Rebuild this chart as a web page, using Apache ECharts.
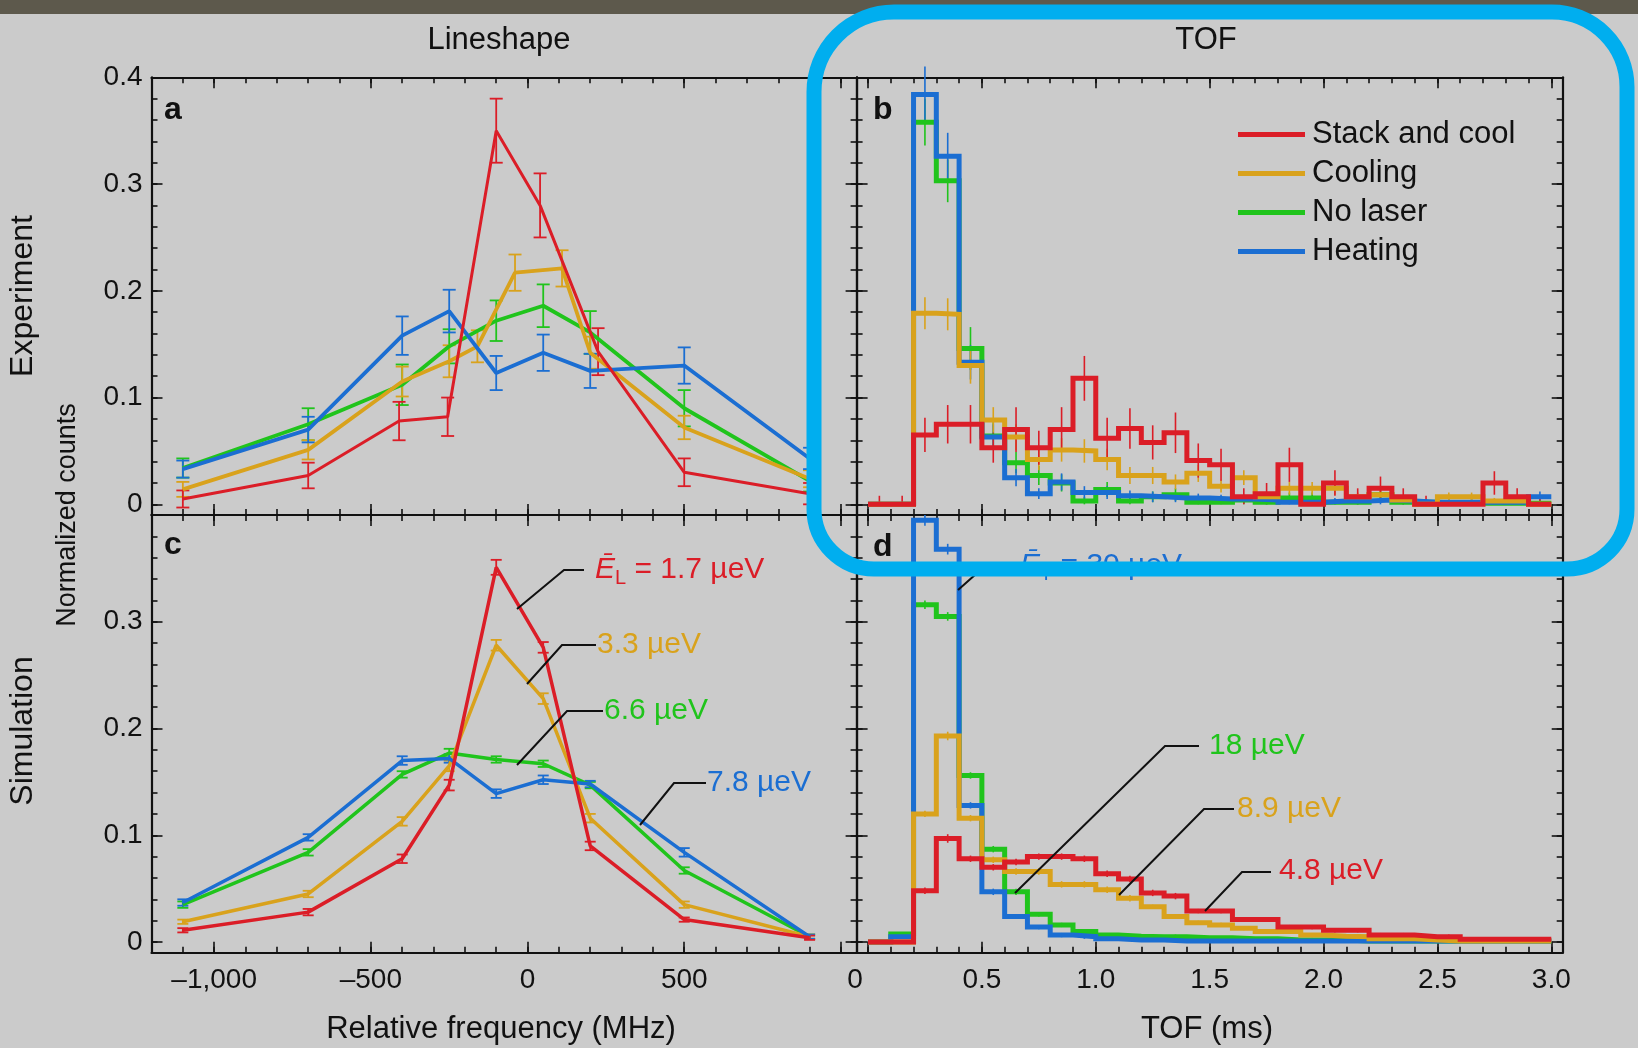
<!DOCTYPE html>
<html><head><meta charset="utf-8">
<script src="https://cdn.jsdelivr.net/npm/echarts@6/dist/echarts.min.js"></script>
<style>html,body{margin:0;padding:0;background:#cbcbcb;}#c{width:1638px;height:1048px;}</style>
</head><body><div id="c"></div>
<script>
// ---------------- DATA ----------------
const seriesNames = ['Stack and cool', 'Cooling', 'No laser', 'Heating'];

// Panel a (Experiment, lineshape): frequency (MHz) / normalized counts / error
const freqRed = [-1100, -700, -410, -255, -100, 40, 225, 500, 900];
const expRedY = [0.005, 0.027, 0.078, 0.082, 0.350, 0.280, 0.143, 0.030, 0.010];
const expRedErr = [0.008, 0.012, 0.018, 0.018, 0.030, 0.030, 0.022, 0.013, 0.010];
const freqCool = [-1100, -700, -400, -250, -160, -40, 110, 200, 500, 900];
const expCoolY = [0.014, 0.051, 0.115, 0.134, 0.148, 0.217, 0.221, 0.142, 0.072, 0.024];
const expCoolErr = [0.007, 0.009, 0.014, 0.015, 0.015, 0.017, 0.017, 0.015, 0.011, 0.008];
const freqNoLaser = [-1100, -700, -400, -250, -100, 50, 200, 500, 900];
const expNoLaserY = [0.034, 0.075, 0.112, 0.148, 0.172, 0.186, 0.161, 0.090, 0.022];
const expNoLaserErr = [0.009, 0.015, 0.019, 0.016, 0.019, 0.020, 0.020, 0.017, 0.010];
const freqHeat = [-1100, -700, -400, -250, -100, 50, 200, 500, 900];
const expHeatY = [0.033, 0.070, 0.158, 0.181, 0.123, 0.142, 0.125, 0.130, 0.043];
const expHeatErr = [0.008, 0.012, 0.018, 0.020, 0.016, 0.017, 0.016, 0.017, 0.010];

// Panel c (Simulation, lineshape)
const freqSim = [-1100, -700, -400, -250, -100, 50, 200, 500, 900];
const simRedY = [0.011, 0.028, 0.078, 0.147, 0.351, 0.276, 0.090, 0.021, 0.004];
const simRedErr = [0.002, 0.003, 0.004, 0.005, 0.007, 0.005, 0.004, 0.002, 0.002];
const simCoolY = [0.019, 0.045, 0.113, 0.165, 0.278, 0.228, 0.116, 0.035, 0.005];
const simCoolErr = [0.002, 0.003, 0.004, 0.005, 0.005, 0.005, 0.004, 0.003, 0.002];
const simNoLaserY = [0.035, 0.084, 0.157, 0.177, 0.171, 0.167, 0.147, 0.067, 0.005];
const simNoLaserErr = [0.003, 0.003, 0.003, 0.004, 0.003, 0.003, 0.003, 0.003, 0.002];
const simHeatY = [0.037, 0.098, 0.170, 0.172, 0.139, 0.152, 0.148, 0.084, 0.005];
const simHeatErr = [0.003, 0.003, 0.004, 0.004, 0.004, 0.004, 0.003, 0.004, 0.002];

// TOF histograms: bin edges (ms)
const tofEdges = [0, 0.1, 0.2, 0.3, 0.4, 0.5, 0.6, 0.7, 0.8, 0.9, 1.0, 1.1, 1.2, 1.3, 1.4, 1.5,
  1.6, 1.7, 1.8, 1.9, 2.0, 2.1, 2.2, 2.3, 2.4, 2.5, 2.6, 2.7, 2.8, 2.9, 3.0];

// Panel b (Experiment TOF)
const tofExpRed = [0, 0, 0.065, 0.075, 0.075, 0.053, 0.070, 0.053, 0.070, 0.118, 0.062, 0.071, 0.058, 0.067, 0.041,
  0.037, 0.007, 0.010, 0.037, 0, 0.020, 0.007, 0.015, 0.007, 0, 0, 0, 0.020, 0.007, 0];
const tofExpRedErr = [0.008, 0.008, 0.016, 0.018, 0.018, 0.014, 0.021, 0.016, 0.021, 0.021, 0.019, 0.019, 0.016, 0.019, 0.016,
  0.015, 0.008, 0.010, 0.016, 0.008, 0.012, 0.008, 0.011, 0.008, 0.008, 0, 0, 0.011, 0.008, 0.008];
const tofExpCool = [0, 0, 0.179, 0.178, 0.130, 0.079, 0.063, 0.042, 0.051, 0.050, 0.042, 0.027, 0.027, 0.021, 0.029,
  0.017, 0.025, 0.007, 0.015, 0.015, 0.015, 0.007, 0.009, 0.004, 0, 0.007, 0.007, 0.003, 0.003, 0];
const tofExpCoolErr = [0, 0, 0.015, 0.015, 0.017, 0.012, 0.012, 0.010, 0.011, 0.011, 0.010, 0.008, 0.008, 0.007, 0.008,
  0.006, 0.007, 0.004, 0.006, 0.006, 0.006, 0.004, 0.005, 0.003, 0, 0.004, 0.004, 0.003, 0.003, 0];
const tofExpNoLaser = [0, 0, 0.358, 0.303, 0.146, 0.064, 0.039, 0.027, 0.020, 0.003, 0.014, 0.003, 0.007, 0.009, 0.002,
  0.002, 0.004, 0.002, 0.006, 0.006, 0.002, 0.002, 0.009, 0.002, 0.002, 0.001, 0.001, 0.001, 0.001, 0.001];
const tofExpNoLaserErr = [0, 0, 0.022, 0.020, 0.020, 0.013, 0.010, 0.009, 0.008, 0.004, 0.007, 0.004, 0.005, 0.006, 0.003,
  0.003, 0.004, 0.003, 0.005, 0.005, 0.003, 0.003, 0.006, 0.003, 0.003, 0.002, 0.002, 0.002, 0.002, 0.002];
const tofExpHeat = [0, 0, 0.384, 0.326, 0.133, 0.063, 0.025, 0.010, 0.021, 0.011, 0.011, 0.008, 0.007, 0.006, 0.006,
  0.005, 0.005, 0.004, 0.002, 0.002, 0.003, 0.003, 0.004, 0.003, 0.002, 0.002, 0.002, 0.002, 0.002, 0.007];
const tofExpHeatErr = [0, 0, 0.026, 0.022, 0.016, 0.012, 0.008, 0.005, 0.008, 0.006, 0.006, 0.005, 0.005, 0.004, 0.004,
  0.004, 0.004, 0.004, 0.003, 0.003, 0.003, 0.003, 0.004, 0.003, 0.003, 0.003, 0.003, 0.003, 0.003, 0.005];

// Panel d (Simulation TOF)
const tofSimRed = [0, 0, 0.048, 0.097, 0.078, 0.070, 0.075, 0.080, 0.080, 0.078, 0.064, 0.059, 0.046, 0.043, 0.029,
  0.029, 0.021, 0.021, 0.014, 0.014, 0.011, 0.011, 0.0065, 0.0065, 0.005, 0.005, 0.0025, 0.0025, 0.0025, 0.0025];
const tofSimRedErr = [0, 0, 0.003, 0.004, 0.003, 0.003, 0.003, 0.003, 0.003, 0.003, 0.003, 0.003, 0.003, 0.003, 0.002,
  0.002, 0.002, 0.002, 0.002, 0.002, 0.002, 0.002, 0.002, 0.002, 0.002, 0.002, 0.002, 0.002, 0.002, 0.002];
const tofSimCool = [0, 0, 0.120, 0.193, 0.116, 0.077, 0.066, 0.066, 0.054, 0.054, 0.049, 0.041, 0.033, 0.024, 0.018,
  0.016, 0.013, 0.0098, 0.0098, 0.0065, 0.0055, 0.005, 0.003, 0.003, 0.002, 0.001, 0.001, 0.001, 0.001, 0.001];
const tofSimCoolErr = [0, 0, 0.003, 0.004, 0.003, 0.003, 0.003, 0.003, 0.003, 0.003, 0.003, 0.003, 0.002, 0.002, 0.002,
  0.002, 0.002, 0.002, 0.002, 0.002, 0.002, 0.002, 0.002, 0.002, 0.002, 0, 0, 0, 0, 0];
const tofSimNoLaser = [0, 0.0075, 0.316, 0.305, 0.156, 0.087, 0.047, 0.026, 0.016, 0.0098, 0.0065, 0.0055, 0.005, 0.005, 0.004,
  0.004, 0.003, 0.003, 0.002, 0.002, 0.002, 0.001, 0.001, 0.001, 0.001, 0.001, 0.001, 0.001, 0.001, 0.001];
const tofSimNoLaserErr = [0, 0.002, 0.004, 0.004, 0.003, 0.003, 0.003, 0.002, 0.002, 0.002, 0.002, 0.002, 0.002, 0.002, 0,
  0, 0, 0, 0, 0, 0, 0, 0, 0, 0, 0, 0, 0, 0, 0];
const tofSimHeat = [0, 0.005, 0.395, 0.368, 0.128, 0.047, 0.024, 0.014, 0.0065, 0.005, 0.003, 0.002, 0.002, 0.001, 0.001,
  0.001, 0.001, 0.001, 0.001, 0.001, 0.001, 0.001, 0.001, 0.001, 0.001, 0.001, 0.001, 0.001, 0.001, 0.001];
const tofSimHeatErr = [0, 0.002, 0.005, 0.005, 0.003, 0.003, 0.002, 0.002, 0.002, 0.002, 0, 0, 0, 0, 0,
  0, 0, 0, 0, 0, 0, 0, 0, 0, 0, 0, 0, 0, 0, 0];

// Tick values
const countMajor = [0, 0.1, 0.2, 0.3, 0.4];
const countMinor = [0, 0.02, 0.04, 0.06, 0.08, 0.1, 0.12, 0.14, 0.16, 0.18, 0.2, 0.22, 0.24, 0.26, 0.28, 0.3, 0.32, 0.34, 0.36, 0.38, 0.4];
const countLabelsTop = [0, 0.1, 0.2, 0.3, 0.4];
const countLabelsBottom = [0, 0.1, 0.2, 0.3];
const freqMajor = [-1000, -500, 0, 500, 1000];
const freqMinor = [-1100, -1000, -900, -800, -700, -600, -500, -400, -300, -200, -100, 0, 100, 200, 300, 400, 500, 600, 700, 800, 900, 1000];
const freqLabels = [-1000, -500, 0, 500];
const tofMajor = [0, 0.5, 1.0, 1.5, 2.0, 2.5, 3.0];
const tofMinor = tofEdges;
const tofLabels = [0, 0.5, 1.0, 1.5, 2.0, 2.5, 3.0];

// ---------------- STYLE ----------------
const FONT = '"Liberation Sans", Arial, Helvetica, sans-serif';
const INK = '#111111';
const COL = { red: '#db1d27', orange: '#d9a21c', green: '#20c41c', blue: '#1b6ed2' };

// ---------------- AXES ----------------
const grids = [
  { left: 151.5, top: 77.3, width: 705.1, height: 437.7, outerBoundsMode: 'none' }, // a
  { left: 856.6, top: 77.3, width: 706.1, height: 437.7, outerBoundsMode: 'none' }, // b
  { left: 151.5, top: 515, width: 705.1, height: 437.7, outerBoundsMode: 'none' },  // c
  { left: 856.6, top: 515, width: 706.1, height: 437.7, outerBoundsMode: 'none' }   // d
];
const xAxes = [], yAxes = [];
function addAxes(list, g, positions, min, max, minor, major, labels, fmt, rich, margin) {
  let mainIdx = -1;
  positions.forEach((pos, pi) => {
    [false, true].forEach(isMajor => {
      const showLabel = isMajor && pi === 0 && !!labels;
      const lab = { show: showLabel, margin: margin, color: INK, fontSize: 28, fontFamily: FONT };
      if (showLabel) { lab.customValues = labels; lab.formatter = fmt; if (rich) lab.rich = rich; }
      list.push({
        type: 'value', gridIndex: g, position: pos, min: min, max: max,
        axisLine: { show: isMajor, onZero: false, lineStyle: { color: INK, width: 2.2 } },
        axisTick: { show: true, inside: true, length: isMajor ? 11 : 6, customValues: isMajor ? major : minor,
          lineStyle: { color: INK, width: 1.6 } },
        axisLabel: lab,
        splitLine: { show: false }, axisPointer: { show: false }
      });
      if (isMajor && pi === 0) mainIdx = list.length - 1;
    });
  });
  return mainIdx;
}
const fmtFreq = v => (v < 0 ? '\u2013' : '') + Math.abs(v).toLocaleString('en-US');
const fmtTof = v => v === 0 ? '{z|0}' : v.toFixed(1);
const fmtCount = v => String(v);
const tofRich = { z: { padding: [0, 26, 0, 0], fontSize: 28, fontFamily: FONT, color: INK } };

const FMIN = -1200, FMAX = 1050, TMIN = -0.05, TMAX = 3.05, YMIN = -0.01, YMAX = 0.4;
const ax = {
  a: { x: addAxes(xAxes, 0, ['bottom', 'top'], FMIN, FMAX, freqMinor, freqMajor, null),
       y: addAxes(yAxes, 0, ['left', 'right'], YMIN, YMAX, countMinor, countMajor, countLabelsTop, fmtCount, null, 9) },
  b: { x: addAxes(xAxes, 1, ['bottom', 'top'], TMIN, TMAX, tofMinor, tofMajor, null),
       y: addAxes(yAxes, 1, ['left', 'right'], YMIN, YMAX, countMinor, countMajor, null) },
  c: { x: addAxes(xAxes, 2, ['bottom', 'top'], FMIN, FMAX, freqMinor, freqMajor, freqLabels, fmtFreq, null, 14),
       y: addAxes(yAxes, 2, ['left', 'right'], YMIN, YMAX, countMinor, countMajor, countLabelsBottom, fmtCount, null, 9) },
  d: { x: addAxes(xAxes, 3, ['bottom', 'top'], TMIN, TMAX, tofMinor, tofMajor, tofLabels, fmtTof, tofRich, 14),
       y: addAxes(yAxes, 3, ['left', 'right'], YMIN, YMAX, countMinor, countMajor, null) }
};

// ---------------- SERIES ----------------
const series = [];
function lineSeries(name, color, xs, ys, p, width) {
  return { type: 'line', name: name, xAxisIndex: p.x, yAxisIndex: p.y, symbol: 'none', color: color,
    itemStyle: { color: color }, lineStyle: { color: color, width: width }, silent: true,
    data: xs.map((x, i) => [x, ys[i]]) };
}
function histSeries(name, color, vals, p, width) {
  const data = vals.map((v, i) => [tofEdges[i], v]);
  data.push([tofEdges[vals.length], vals[vals.length - 1]]);
  return { type: 'line', name: name, xAxisIndex: p.x, yAxisIndex: p.y, symbol: 'none', step: 'end', color: color,
    itemStyle: { color: color }, lineStyle: { color: color, width: width, join: 'miter' }, silent: true, data: data };
}
function errSeries(color, xs, ys, es, p, capW, clamp, lw) {
  return { type: 'custom', name: 'err', xAxisIndex: p.x, yAxisIndex: p.y, silent: true, clip: false,
    itemStyle: { color: color }, encode: { x: 0, y: 1 },
    data: xs.map((x, i) => [x, ys[i], es[i]]),
    renderItem: (params, api) => {
      const x = api.value(0), y = api.value(1), e = api.value(2);
      if (!e) return null;
      const lo = clamp ? Math.max(0, y - e) : y - e;
      const t = api.coord([x, y + e]), b = api.coord([x, lo]);
      const st = { stroke: color, lineWidth: lw };
      const ch = [{ type: 'line', shape: { x1: t[0], y1: t[1], x2: b[0], y2: b[1] }, style: st }];
      if (capW) {
        ch.push({ type: 'line', shape: { x1: t[0] - capW / 2, y1: t[1], x2: t[0] + capW / 2, y2: t[1] }, style: st });
        ch.push({ type: 'line', shape: { x1: b[0] - capW / 2, y1: b[1], x2: b[0] + capW / 2, y2: b[1] }, style: st });
      }
      return { type: 'group', children: ch };
    } };
}
const centers = tofEdges.slice(0, 30).map((e, i) => (e + tofEdges[i + 1]) / 2);

// Panel a
[[seriesNames[2], COL.green, freqNoLaser, expNoLaserY, expNoLaserErr],
 [seriesNames[1], COL.orange, freqCool, expCoolY, expCoolErr],
 [seriesNames[3], COL.blue, freqHeat, expHeatY, expHeatErr],
 [seriesNames[0], COL.red, freqRed, expRedY, expRedErr]].forEach(s => {
  series.push(lineSeries(s[0], s[1], s[2], s[3], ax.a, s[0] === seriesNames[0] ? 3 : 3.8));
  series.push(errSeries(s[1], s[2], s[3], s[4], ax.a, 13, false, 1.8));
});
// Panel c
[[seriesNames[2], COL.green, simNoLaserY, simNoLaserErr],
 [seriesNames[1], COL.orange, simCoolY, simCoolErr],
 [seriesNames[3], COL.blue, simHeatY, simHeatErr],
 [seriesNames[0], COL.red, simRedY, simRedErr]].forEach(s => {
  series.push(lineSeries(s[0], s[1], freqSim, s[2], ax.c, 3.5));
  series.push(errSeries(s[1], freqSim, s[2], s[3], ax.c, 11, false, 1.8));
});
// Panel b
[[seriesNames[2], COL.green, tofExpNoLaser, tofExpNoLaserErr],
 [seriesNames[3], COL.blue, tofExpHeat, tofExpHeatErr],
 [seriesNames[1], COL.orange, tofExpCool, tofExpCoolErr],
 [seriesNames[0], COL.red, tofExpRed, tofExpRedErr]].forEach(s => {
  series.push(histSeries(s[0], s[1], s[2], ax.b, 5));
  series.push(errSeries(s[1], centers, s[2], s[3], ax.b, 0, true, 1.6));
});
// Panel d
[[seriesNames[2], COL.green, tofSimNoLaser, tofSimNoLaserErr],
 [seriesNames[3], COL.blue, tofSimHeat, tofSimHeatErr],
 [seriesNames[1], COL.orange, tofSimCool, tofSimCoolErr],
 [seriesNames[0], COL.red, tofSimRed, tofSimRedErr]].forEach(s => {
  series.push(histSeries(s[0], s[1], s[2], ax.d, 5));
  series.push(errSeries(s[1], centers, s[2], s[3], ax.d, 0, true, 1.6));
});

// ---------------- ANNOTATIONS / GRAPHICS ----------------
function txt(x, y, text, size, opts) {
  opts = opts || {};
  return { type: 'text', x: x, y: y, rotation: opts.rot || 0, z: 50,
    style: { text: text, fontSize: size, fontFamily: FONT, fontWeight: opts.bold ? 'bold' : 'normal',
      fill: opts.color || INK, align: opts.align || 'center', verticalAlign: 'middle', rich: opts.rich } };
}
function leader(points) {
  return { type: 'polyline', z: 50, shape: { points: points }, style: { stroke: INK, lineWidth: 2, fill: null } };
}
function eLabel(x, y, sub, rest, color) {
  return { type: 'text', x: x, y: y, z: 50,
    style: { text: '{e|\u0112}{s|' + sub + '}{n| = ' + rest + '}', fill: color, align: 'left', verticalAlign: 'middle',
      rich: {
        e: { fontSize: 30, fontStyle: 'italic', fontFamily: FONT, fill: color, lineHeight: 36, verticalAlign: 'middle' },
        s: { fontSize: 20, fontFamily: FONT, fill: color, lineHeight: 22, verticalAlign: 'bottom' },
        n: { fontSize: 30, fontFamily: FONT, fill: color, lineHeight: 36, verticalAlign: 'middle' }
      } } };
}
const graphics = [
  { type: 'rect', z: 40, shape: { x: 0, y: 0, width: 1638, height: 14 }, style: { fill: '#5d594c' } },
  txt(499, 40, 'Lineshape', 31),
  txt(1206, 40, 'TOF', 31),
  txt(501, 1029, 'Relative frequency (MHz)', 31),
  txt(1207, 1029, 'TOF (ms)', 31),
  txt(23, 296, 'Experiment', 32, { rot: Math.PI / 2 }),
  txt(23, 731, 'Simulation', 32, { rot: Math.PI / 2 }),
  txt(68, 515, 'Normalized counts', 27, { rot: Math.PI / 2 }),
  txt(164, 110, 'a', 32, { bold: true, align: 'left' }),
  txt(873, 110, 'b', 32, { bold: true, align: 'left' }),
  txt(164, 545, 'c', 32, { bold: true, align: 'left' }),
  txt(873, 547, 'd', 32, { bold: true, align: 'left' }),
  // panel c annotations
  leader([[584, 570], [564, 570], [517, 609]]),
  eLabel(595, 570, 'L', '1.7 \u00b5eV', COL.red),
  leader([[596, 645], [562, 645], [527, 684]]),
  txt(597, 645, '3.3 \u00b5eV', 30, { color: COL.orange, align: 'left' }),
  leader([[603, 711], [567, 711], [517, 765]]),
  txt(604, 711, '6.6 \u00b5eV', 30, { color: COL.green, align: 'left' }),
  leader([[706, 783], [674, 783], [640, 825]]),
  txt(707, 783, '7.8 \u00b5eV', 30, { color: COL.blue, align: 'left' }),
  // panel d annotations
  leader([[1012, 566], [985, 566], [958, 590]]),
  eLabel(1020, 566, 'T', '30 \u00b5eV', COL.blue),
  leader([[1199, 746], [1165, 746], [1015, 893]]),
  txt(1209, 746, '18 \u00b5eV', 30, { color: COL.green, align: 'left' }),
  leader([[1234, 809], [1204, 809], [1119, 895]]),
  txt(1237, 809, '8.9 \u00b5eV', 30, { color: COL.orange, align: 'left' }),
  leader([[1271, 872], [1242, 872], [1205, 911]]),
  txt(1279, 871, '4.8 \u00b5eV', 30, { color: COL.red, align: 'left' }),
  // highlight frame
  { type: 'rect', z: 200, shape: { x: 814, y: 12, width: 813, height: 557, r: [80, 75, 60, 60] },
    style: { fill: null, stroke: '#00aeef', lineWidth: 15 } }
];

const option = {
  animation: false,
  backgroundColor: '#cbcbcb',
  grid: grids,
  xAxis: xAxes,
  yAxis: yAxes,
  legend: {
    data: seriesNames, orient: 'vertical', left: 1233, top: 114, icon: 'rect',
    itemWidth: 67, itemHeight: 5, itemGap: 8, selectedMode: false,
    textStyle: { fontSize: 31, fontFamily: FONT, color: INK, lineHeight: 31, padding: [0, 0, 0, 2] }
  },
  series: series,
  graphic: graphics
};
const chart = echarts.init(document.getElementById('c'), null, { renderer: 'canvas' });
chart.setOption(option);
</script></body></html>
